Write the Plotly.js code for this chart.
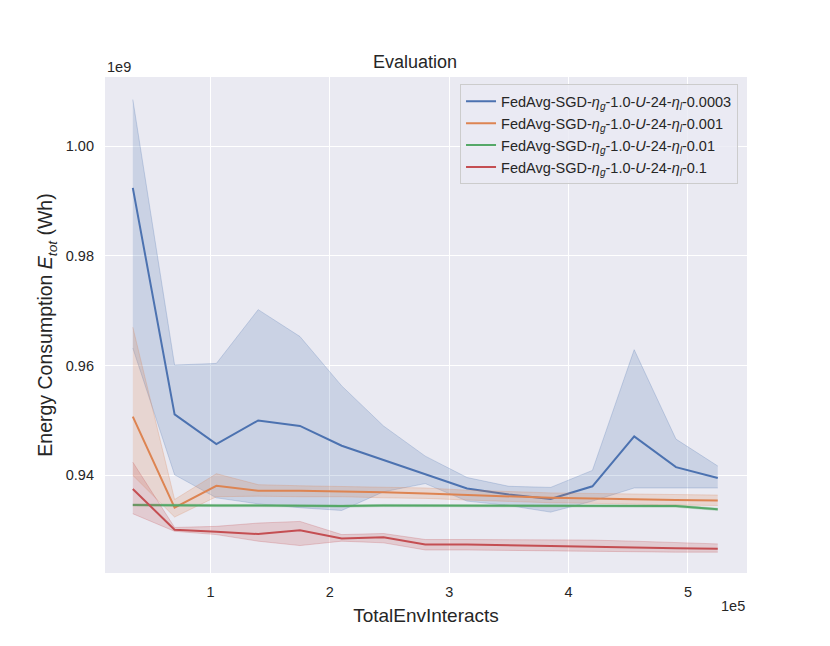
<!DOCTYPE html>
<html>
<head>
<meta charset="utf-8">
<script src="https://cdn.plot.ly/plotly-3.0.1.min.js"></script>
<style>
  body { margin: 0; background: #fff; }
  #chart { width: 830px; height: 646px; }
</style>
</head>
<body>
<div id="chart"></div>
<script>
// x: total env interactions, y: energy in units of 1e9 Wh
var steps = [35000, 70000, 105000, 140000, 175000, 210000, 245000, 280000,
             315000, 350000, 385000, 420000, 455000, 490000, 525000];

var blueMean  = [0.9924, 0.9511, 0.9457, 0.9500, 0.9490, 0.9454, 0.9428, 0.9402, 0.9376, 0.9365, 0.9357, 0.9380, 0.9471, 0.9415, 0.9395];
var blueUpper = [1.0085, 0.9601, 0.9604, 0.9702, 0.9653, 0.9563, 0.9490, 0.9435, 0.9396, 0.9380, 0.9378, 0.9409, 0.9629, 0.9466, 0.9417];
var blueLower = [0.9632, 0.9401, 0.9359, 0.9348, 0.9341, 0.9336, 0.9370, 0.9385, 0.9353, 0.9345, 0.9333, 0.9353, 0.9377, 0.9377, 0.9377];

var orangeMean  = [0.9507, 0.9341, 0.9381, 0.9372, 0.9372, 0.9371, 0.9369, 0.9367, 0.9364, 0.9361, 0.9359, 0.9358, 0.9356, 0.9355, 0.9354];
var orangeUpper = [0.9670, 0.9356, 0.9403, 0.9383, 0.9381, 0.9380, 0.9379, 0.9377, 0.9373, 0.9370, 0.9368, 0.9367, 0.9366, 0.9365, 0.9364];
var orangeLower = [0.9400, 0.9324, 0.9361, 0.9362, 0.9361, 0.9361, 0.9359, 0.9358, 0.9355, 0.9352, 0.9350, 0.9349, 0.9347, 0.9346, 0.9345];

var greenMean  = [0.9346, 0.9345, 0.9345, 0.9345, 0.9344, 0.9344, 0.9345, 0.9345, 0.9345, 0.9345, 0.9344, 0.9344, 0.9344, 0.9344, 0.9338];
var greenUpper = [0.9348, 0.9347, 0.9347, 0.9347, 0.9346, 0.9346, 0.9347, 0.9347, 0.9347, 0.9347, 0.9346, 0.9346, 0.9346, 0.9346, 0.9340];
var greenLower = [0.9344, 0.9343, 0.9343, 0.9343, 0.9342, 0.9342, 0.9343, 0.9343, 0.9343, 0.9343, 0.9342, 0.9342, 0.9342, 0.9342, 0.9336];

var redMean  = [0.9375, 0.9301, 0.9297, 0.9293, 0.9300, 0.9285, 0.9287, 0.9274, 0.9274, 0.9272, 0.9271, 0.9270, 0.9268, 0.9267, 0.9266];
var redUpper = [0.9424, 0.9305, 0.9307, 0.9313, 0.9316, 0.9292, 0.9294, 0.9283, 0.9283, 0.9283, 0.9282, 0.9282, 0.9280, 0.9278, 0.9275];
var redLower = [0.9330, 0.9298, 0.9292, 0.9280, 0.9272, 0.9280, 0.9277, 0.9264, 0.9264, 0.9263, 0.9262, 0.9262, 0.9261, 0.9260, 0.9260];

var names = [
  'FedAvg-SGD-<i>η</i><sub><i>g</i></sub>-1.0-<i>U</i>-24-<i>η</i><sub><i>l</i></sub>-0.0003',
  'FedAvg-SGD-<i>η</i><sub><i>g</i></sub>-1.0-<i>U</i>-24-<i>η</i><sub><i>l</i></sub>-0.001',
  'FedAvg-SGD-<i>η</i><sub><i>g</i></sub>-1.0-<i>U</i>-24-<i>η</i><sub><i>l</i></sub>-0.01',
  'FedAvg-SGD-<i>η</i><sub><i>g</i></sub>-1.0-<i>U</i>-24-<i>η</i><sub><i>l</i></sub>-0.1'
];
var colors = ['76,114,176', '221,132,82', '85,168,104', '196,78,82'];

var series = [
  [blueMean, blueUpper, blueLower],
  [orangeMean, orangeUpper, orangeLower],
  [greenMean, greenUpper, greenLower],
  [redMean, redUpper, redLower]
];

var data = [];
series.forEach(function(s, i){
  var c = colors[i];
  data.push({
    x: steps, y: s[2], mode: 'lines', showlegend: false, hoverinfo: 'skip',
    line: {color: 'rgba(' + c + ',0.25)', width: 1}
  });
  data.push({
    x: steps, y: s[1], mode: 'lines', showlegend: false, hoverinfo: 'skip',
    fill: 'tonexty', fillcolor: 'rgba(' + c + ',0.2)',
    line: {color: 'rgba(' + c + ',0.25)', width: 1}
  });
  data.push({
    x: steps, y: s[0], mode: 'lines', name: names[i],
    line: {color: 'rgb(' + c + ')', width: 2}
  });
});

var txt = '#262626';
var layout = {
  width: 830, height: 646,
  paper_bgcolor: '#ffffff',
  plot_bgcolor: '#EAEAF2',
  font: {family: '"Liberation Sans", Arial, sans-serif', color: txt, size: 14},
  margin: {l: 105, r: 83, t: 77, b: 73},
  title: {text: 'Evaluation', font: {size: 18, color: txt}, x: 0.5, xanchor: 'center', y: 0.904, yanchor: 'middle'},
  showlegend: true,
  legend: {
    x: 0.553, y: 0.985, xanchor: 'left', yanchor: 'top',
    traceorder: 'normal',
    bgcolor: 'rgba(234,234,242,0.8)', bordercolor: '#cccccc', borderwidth: 1,
    font: {size: 14.5, color: txt}
  },
  xaxis: {
    range: [11700, 549500],
    tickvals: [100000, 200000, 300000, 400000, 500000],
    ticktext: ['1', '2', '3', '4', '5'],
    showgrid: true, gridcolor: '#ffffff', gridwidth: 1.2,
    zeroline: false, showline: false, ticks: '',
    ticklabelstandoff: 8,
    tickfont: {size: 14.5, color: txt},
    title: {text: 'TotalEnvInteracts', font: {size: 19, color: txt}, standoff: 10}
  },
  yaxis: {
    range: [0.9222, 1.0126],
    tickvals: [0.94, 0.96, 0.98, 1.00],
    tickformat: '.2f',
    showgrid: true, gridcolor: '#ffffff', gridwidth: 1.2,
    zeroline: false, showline: false, ticks: '',
    ticklabelstandoff: 10,
    tickfont: {size: 14.5, color: txt},
    title: {text: 'Energy Consumption <i>E</i><sub><i>tot</i></sub> (Wh)', font: {size: 19.5, color: txt}, standoff: 7}
  },
  annotations: [
    {text: '1e9', xref: 'paper', yref: 'paper', x: 0, y: 1, xanchor: 'left', yanchor: 'bottom',
     showarrow: false, font: {size: 14.5, color: txt}, yshift: 0},
    {text: '1e5', xref: 'paper', yref: 'paper', x: 1, y: 0, xanchor: 'right', yanchor: 'top',
     showarrow: false, font: {size: 14.5, color: txt}, yshift: -23}
  ]
};

Plotly.newPlot('chart', data, layout, {displayModeBar: false});
</script>
</body>
</html>
